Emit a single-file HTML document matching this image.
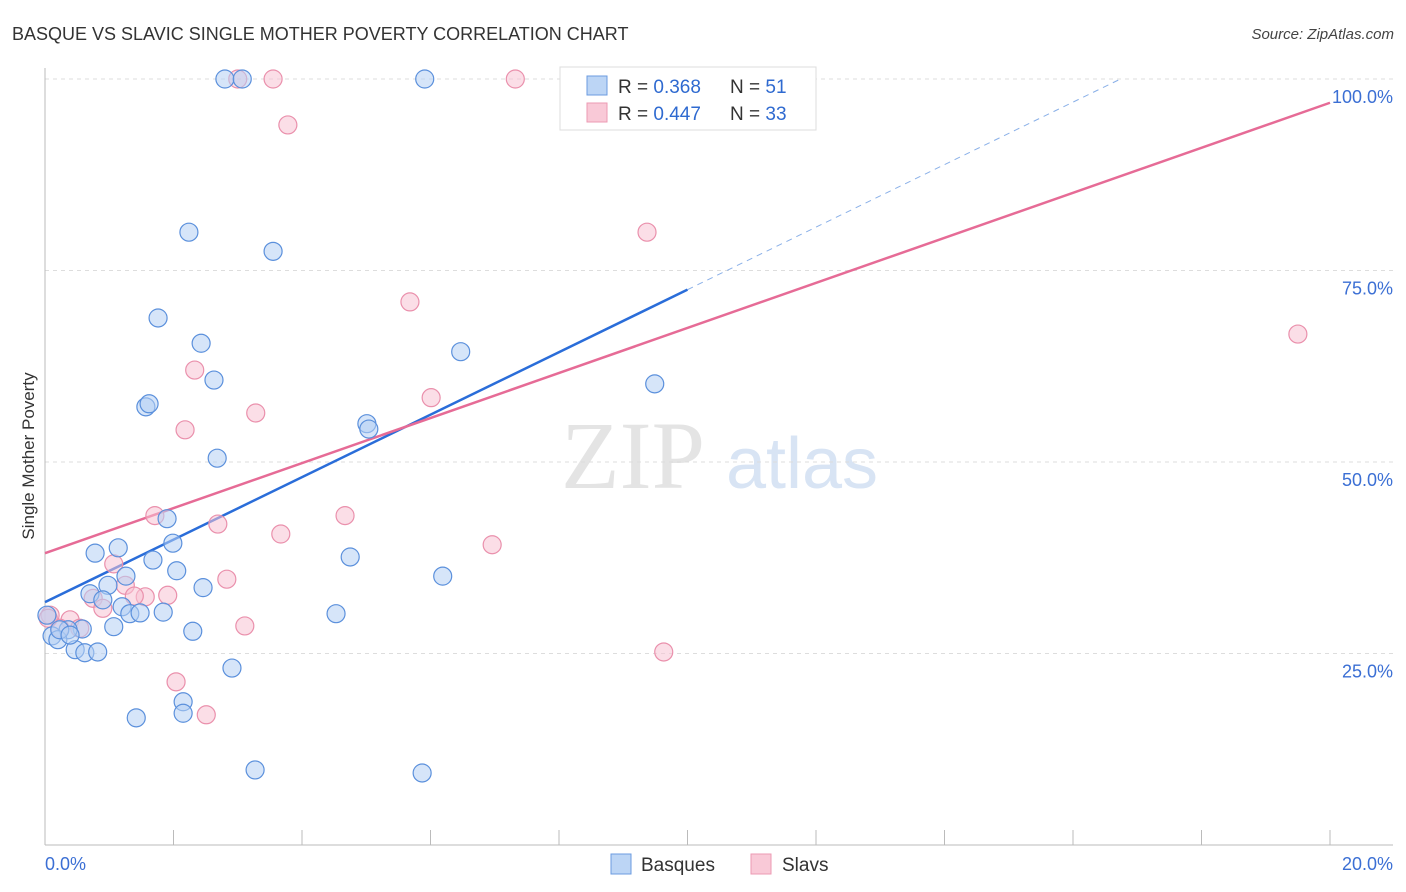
<!DOCTYPE html>
<html><head><meta charset="utf-8"><style>
body{margin:0;background:#fff;font-family:"Liberation Sans",sans-serif}
</style></head><body>
<svg id="chart" width="1406" height="892" xmlns="http://www.w3.org/2000/svg" style="display:block">
<text x="12" y="40" font-size="18" fill="#333">BASQUE VS SLAVIC SINGLE MOTHER POVERTY CORRELATION CHART</text>
<text x="1394" y="39" font-size="15" fill="#444" font-style="italic" text-anchor="end">Source: ZipAtlas.com</text>
<text transform="translate(34,456) rotate(-90)" font-size="17" fill="#333" text-anchor="middle">Single Mother Poverty</text>
<g>
<text x="633" y="488" font-size="96" font-family="Liberation Serif,serif" fill="#e4e4e4" text-anchor="middle">ZIP</text>
<text x="802" y="488" font-size="72" fill="#d8e4f4" text-anchor="middle">atlas</text>
</g>
<g id="grid"></g><g id="axes"></g><g id="lines"></g><g id="pts"></g>
<g>
<rect x="560" y="67" width="256" height="63" fill="#fff" stroke="#ddd"/>
<rect x="587" y="76" width="20" height="19" fill="#bcd5f5" stroke="#6b9be0"/>
<rect x="587" y="103" width="20" height="19" fill="#f9c9d7" stroke="#ec9ab3"/>
<text x="618" y="93" font-size="19" fill="#333">R = <tspan fill="#2f6ad0">0.368</tspan><tspan x="730">N = </tspan><tspan fill="#2f6ad0">51</tspan></text>
<text x="618" y="120" font-size="19" fill="#333">R = <tspan fill="#2f6ad0">0.447</tspan><tspan x="730">N = </tspan><tspan fill="#2f6ad0">33</tspan></text>
</g>
<g>
<rect x="611" y="854" width="20" height="20" fill="#bcd5f5" stroke="#6b9be0"/>
<text x="641" y="871" font-size="19" fill="#333">Basques</text>
<rect x="751" y="854" width="20" height="20" fill="#f9c9d7" stroke="#ec9ab3"/>
<text x="782" y="871" font-size="19" fill="#333">Slavs</text>
</g>
</svg>
<script>
const basqueX=[2.80,3.07,5.91,2.24,3.55,1.76,2.43,2.63,6.47,9.49,1.57,1.62,5.01,5.04,2.68,1.90,0.78,1.14,1.99,1.68,2.05,1.26,0.98,0.70,0.90,2.46,1.20,1.32,1.48,1.84,1.07,2.30,4.53,4.75,6.19,0.58,0.36,0.11,0.20,0.47,0.62,0.82,2.91,2.15,2.15,1.42,3.27,5.87,0.03,0.23,0.39];
const basqueY=[100,100,100,80.0,77.5,68.8,65.5,60.7,64.4,60.2,57.2,57.6,55.0,54.3,50.5,42.6,38.1,38.8,39.4,37.2,35.8,35.1,33.9,32.8,32.0,33.6,31.1,30.2,30.3,30.4,28.5,27.9,30.2,37.6,35.1,28.2,28.1,27.3,26.8,25.5,25.1,25.2,23.1,18.7,17.2,16.6,9.8,9.4,30.0,28.1,27.4];
const slavX=[3.00,3.55,7.32,3.78,9.37,5.68,19.50,2.33,6.01,3.28,2.18,1.71,4.67,2.69,3.67,6.96,1.07,2.83,1.25,0.75,1.56,1.91,0.90,3.11,0.39,0.54,0.08,9.63,2.04,2.51,0.23,0.05,1.39];
const slavY=[100,100,100,94.0,80.0,70.9,66.7,62.0,58.4,56.4,54.2,43.0,43.0,41.9,40.6,39.2,36.7,34.7,33.9,32.2,32.4,32.6,30.9,28.6,29.4,28.3,30.0,25.2,21.3,17.0,28.3,29.6,32.5];
const yTicks=[25,50,75,100];
const yTickLabels=["25.0%","50.0%","75.0%","100.0%"];
const xTickLabels=["0.0%","20.0%"];
const basqueTrend=[31.7,4.08];
const slavTrend=[38.1,2.94];
const NS="http://www.w3.org/2000/svg";
const X=v=>45+v*64.25, Y=v=>845-v*7.66;
function mk(tag,attrs,parent){const e=document.createElementNS(NS,tag);for(const k in attrs)e.setAttribute(k,attrs[k]);parent.appendChild(e);return e;}
const grid=document.getElementById('grid'),axes=document.getElementById('axes'),lines=document.getElementById('lines'),pts=document.getElementById('pts');
yTicks.forEach((t,i)=>{
 const l=mk('line',{x1:45,x2:1393,y1:Y(t),y2:Y(t),stroke:'#ddd','stroke-dasharray':'4,4'},grid);
 
 
 const tx=mk('text',{x:1393,y:Y(t)+24,'font-size':18,fill:'#3b6fd4','text-anchor':'end'},axes);
 tx.textContent=yTickLabels[i];
 
 
});
const ax=mk('line',{x1:45,x2:1393,y1:845,y2:845,stroke:'#bbb'},axes);


const ay=mk('line',{x1:45,x2:45,y1:68,y2:845,stroke:'#bbb'},axes);


for(let i=0;i<=10;i++){const t=mk('line',{x1:X(i*2),x2:X(i*2),y1:830,y2:845,stroke:'#bbb'},axes);
 
 }
[[0,'start',45],[20,'end',1393]].forEach((d,i)=>{const t=mk('text',{x:d[2],y:870,'font-size':18,fill:'#3b6fd4','text-anchor':d[1]},axes);t.textContent=xTickLabels[i];
 
 });
function dot(x,y,fill,stroke,name){const c=mk('circle',{cx:X(x),cy:Y(y),r:9,fill:fill,'fill-opacity':0.55,stroke:stroke,'stroke-width':1.2},pts);
 
 }
slavX.forEach((x,i)=>dot(x,slavY[i],'#f7c3d3','#ea90ac','slav-point'));
basqueX.forEach((x,i)=>dot(x,basqueY[i],'#b4d0f4','#5b90dc','basque-point'));
const bl=mk('line',{x1:X(0),y1:Y(basqueTrend[0]),x2:X(10),y2:Y(basqueTrend[0]+10*basqueTrend[1]),stroke:'#2a6dd9','stroke-width':2.5},lines);


const xe=(100-basqueTrend[0])/basqueTrend[1];
const bd=mk('line',{x1:X(10),y1:Y(basqueTrend[0]+10*basqueTrend[1]),x2:X(xe),y2:Y(100),stroke:'#8ab0e8','stroke-width':1,'stroke-dasharray':'6,5'},lines);


const sl=mk('line',{x1:X(0),y1:Y(slavTrend[0]),x2:X(20),y2:Y(slavTrend[0]+20*slavTrend[1]),stroke:'#e66b96','stroke-width':2.5},lines);


</script>
</body></html>
